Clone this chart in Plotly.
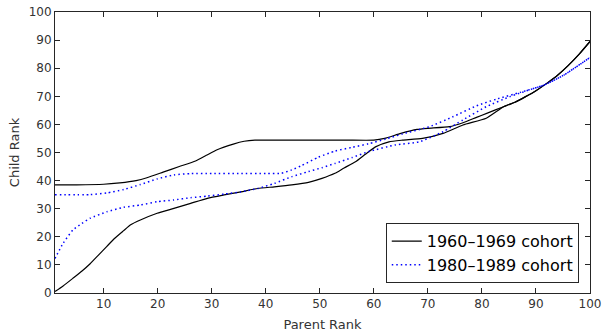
import plotly.graph_objects as go

# 1960-1969 cohort, upper bound
hi60_x = [1, 5, 10, 13, 16, 18, 21, 24, 27, 29, 31, 34, 36, 38, 45, 50, 55, 60, 62, 65, 68, 70, 74, 76.5, 79, 81, 84, 86, 88, 90, 92, 94, 96, 98, 100]
hi60_y = [38.5, 38.5, 38.7, 39.2, 40, 41, 43, 45, 47, 49, 51, 53, 54, 54.4, 54.4, 54.4, 54.4, 54.4, 55, 56.8, 58.2, 58.6, 59.2, 60.6, 62.5, 64, 66.3, 67.8, 69.8, 72, 74.6, 77.5, 81, 85, 89.5]
# 1960-1969 cohort, lower bound
lo60_x = [1, 2.5, 4.3, 6, 7.5, 9, 10.6, 12, 13.7, 15, 16.8, 19.9, 23, 26.1, 29.2, 32.3, 35.4, 38.5, 41.6, 44.8, 47.9, 50.4, 52.8, 54.5, 56.6, 58.5, 60.3, 62.8, 65.3, 69, 72.8, 76.5, 80.8, 84, 86, 88, 90, 92, 94, 96, 98, 100]
lo60_y = [0.5, 2.5, 5.2, 7.8, 10.4, 13.4, 16.6, 19.4, 22.2, 24.3, 26, 28.4, 30.1, 31.9, 33.7, 34.9, 36, 37.2, 37.8, 38.5, 39.4, 40.8, 42.6, 44.5, 46.7, 49.5, 52, 53.8, 54.4, 55, 56.8, 59.8, 62.2, 66.3, 67.8, 69.8, 72, 74.6, 77.5, 81, 85, 89.5]
# 1980-1989 cohort, upper bound
hi80_x = [1, 7.5, 10.6, 13.7, 16.8, 19.9, 23, 26.1, 30, 35, 40, 42.9, 44.8, 46.6, 49.7, 52.8, 55.9, 59, 62.2, 65.3, 70.3, 74.6, 79, 82.7, 87.1, 91.5, 95.2, 100]
hi80_y = [35, 35, 35.6, 36.8, 38.6, 40.6, 42, 42.5, 42.5, 42.5, 42.5, 42.6, 43.8, 45.3, 48.3, 50.5, 51.8, 53.1, 54.8, 56.6, 59.2, 62.7, 66.6, 69, 71.4, 74, 77.6, 83.8]
# 1980-1989 cohort, lower bound
lo80_x = [1, 2.5, 4.3, 6, 7.5, 10.6, 13.7, 16.8, 19.9, 23, 26.1, 29.2, 32.3, 35.4, 38.5, 41.6, 44.8, 47.9, 50.4, 52.8, 56, 59, 64, 68.4, 72.8, 76.5, 80.8, 85.2, 90.2, 91.5, 95.2, 100]
lo80_y = [12.3, 17.7, 22.4, 24.8, 26.6, 28.9, 30.5, 31.3, 32.5, 33.1, 33.9, 34.5, 35.2, 36, 37.2, 39, 41.4, 43.2, 44.6, 46.1, 48.2, 50.3, 52.7, 53.8, 57.4, 61.6, 66.3, 69.9, 73.2, 74, 77.6, 83.8]

x_ticks = [10, 20, 30, 40, 50, 60, 70, 80, 90, 100]
y_ticks = [0, 10, 20, 30, 40, 50, 60, 70, 80, 90, 100]
names = ["1960\u20131969 cohort", "1980\u20131989 cohort"]

black = dict(color="black", width=1.2, shape="spline", smoothing=0.5)
blue = dict(color="#0000ff", width=1.5, dash="1.5px,3px", shape="spline", smoothing=0.5)

fig = go.Figure()
fig.add_trace(go.Scatter(x=hi60_x, y=hi60_y, mode="lines", line=black, name=names[0], legendgroup="a", showlegend=True))
fig.add_trace(go.Scatter(x=lo60_x, y=lo60_y, mode="lines", line=black, name=names[0], legendgroup="a", showlegend=False))
fig.add_trace(go.Scatter(x=hi80_x, y=hi80_y, mode="lines", line=blue, name=names[1], legendgroup="b", showlegend=True))
fig.add_trace(go.Scatter(x=lo80_x, y=lo80_y, mode="lines", line=blue, name=names[1], legendgroup="b", showlegend=False))

axis_common = dict(showline=True, linecolor="#262626", linewidth=1, mirror="ticks", ticks="inside",
                   ticklen=5, tickcolor="#262626", showgrid=False, zeroline=False, automargin=False,
                   tickfont=dict(family="DejaVu Sans", size=12, color="#333333"))

fig.update_xaxes(range=[1, 100], tickvals=x_ticks, title=dict(text="Parent Rank", standoff=9,
                 font=dict(family="DejaVu Sans", size=13, color="#333333")), **axis_common)
fig.update_yaxes(range=[0, 100], tickvals=y_ticks, title=dict(text="Child Rank", standoff=6,
                 font=dict(family="DejaVu Sans", size=13, color="#333333")), **axis_common)

fig.update_layout(
    width=602, height=335,
    margin=dict(l=55, r=12, t=12, b=42, autoexpand=False),
    paper_bgcolor="white", plot_bgcolor="white",
    legend=dict(x=0.979, y=0.035, xanchor="right", yanchor="bottom",
                bordercolor="#262626", borderwidth=1, bgcolor="white",
                font=dict(family="DejaVu Sans", size=16, color="black"),
                tracegroupgap=0, itemwidth=30),
    showlegend=True,
)

fig.write_html("out.html")
